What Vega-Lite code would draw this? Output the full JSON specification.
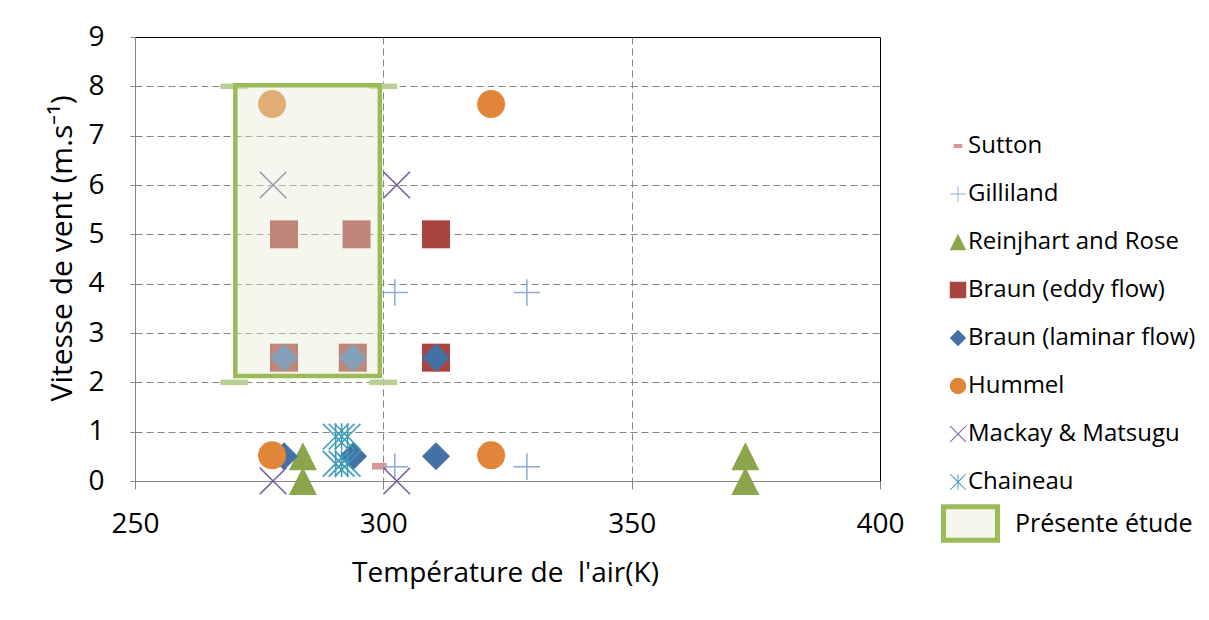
{
  "$schema": "https://vega.github.io/schema/vega-lite/v6.json",
  "width": 745,
  "height": 444,
  "autosize": {"type": "none"},
  "padding": {"left": 135, "top": 37, "right": 329, "bottom": 139},
  "background": "#ffffff",
  "datasets": {
    "pts": [
      {"serie": "Sutton", "T": 299.2, "V": 0.3},
      {"serie": "Gilliland", "T": 302.3, "V": 3.82},
      {"serie": "Gilliland", "T": 328.9, "V": 3.82},
      {"serie": "Gilliland", "T": 302.3, "V": 0.29},
      {"serie": "Gilliland", "T": 328.9, "V": 0.29},
      {"serie": "Reinjhart and Rose", "T": 283.8, "V": 0.5},
      {"serie": "Reinjhart and Rose", "T": 283.8, "V": 0},
      {"serie": "Reinjhart and Rose", "T": 372.9, "V": 0.5},
      {"serie": "Reinjhart and Rose", "T": 372.9, "V": 0},
      {"serie": "Braun (eddy flow)", "T": 280, "V": 5},
      {"serie": "Braun (eddy flow)", "T": 294.6, "V": 5},
      {"serie": "Braun (eddy flow)", "T": 310.6, "V": 5},
      {"serie": "Braun (eddy flow)", "T": 280, "V": 2.5},
      {"serie": "Braun (eddy flow)", "T": 293.85, "V": 2.5},
      {"serie": "Braun (eddy flow)", "T": 310.6, "V": 2.5},
      {"serie": "Braun (laminar flow)", "T": 280, "V": 2.5},
      {"serie": "Braun (laminar flow)", "T": 293.85, "V": 2.5},
      {"serie": "Braun (laminar flow)", "T": 310.6, "V": 2.5},
      {"serie": "Braun (laminar flow)", "T": 280, "V": 0.5},
      {"serie": "Braun (laminar flow)", "T": 293.9, "V": 0.5},
      {"serie": "Braun (laminar flow)", "T": 310.6, "V": 0.5},
      {"serie": "Hummel", "T": 277.6, "V": 7.64},
      {"serie": "Hummel", "T": 321.7, "V": 7.64},
      {"serie": "Hummel", "T": 277.6, "V": 0.52},
      {"serie": "Hummel", "T": 321.7, "V": 0.52},
      {"serie": "Mackay & Matsugu", "T": 277.8, "V": 6},
      {"serie": "Mackay & Matsugu", "T": 302.7, "V": 6},
      {"serie": "Mackay & Matsugu", "T": 277.8, "V": 0},
      {"serie": "Mackay & Matsugu", "T": 302.7, "V": 0},
      {"serie": "Chaineau", "T": 290.4, "V": 0.9},
      {"serie": "Chaineau", "T": 291.6, "V": 0.9},
      {"serie": "Chaineau", "T": 292.8, "V": 0.9},
      {"serie": "Chaineau", "T": 290.4, "V": 0.35},
      {"serie": "Chaineau", "T": 291.6, "V": 0.35},
      {"serie": "Chaineau", "T": 292.8, "V": 0.35}
    ],
    "corners": [
      {"T": 270, "V": 2},
      {"T": 300, "V": 2},
      {"T": 270, "V": 8},
      {"T": 300, "V": 8}
    ],
    "zone": [
      {"etude": "Présente étude", "Tmin": 270.2, "Tmax": 299.3, "Vmin": 2.13, "Vmax": 8.02}
    ]
  },
  "layer": [
    {
      "data": {"name": "pts"},
      "mark": {"type": "point", "filled": true, "opacity": 1, "size": 784, "strokeWidth": 0},
      "encoding": {
        "x": {
          "field": "T", "type": "quantitative",
          "scale": {"domain": [250, 400], "nice": false, "zero": false},
          "axis": {
            "values": [250, 300, 350, 400],
            "title": "Température de\u00a0 l'air(K)",
            "grid": true,
            "gridColor": "#868686",
            "gridDash": [7, 4],
            "gridOpacity": {"condition": {"test": "datum.value == 300 || datum.value == 350", "value": 1}, "value": 0},
            "domainColor": "#868686",
            "tickColor": "#868686",
            "tickSize": 8,
            "labelFont": "Open Sans",
            "labelFontSize": 28,
            "labelColor": "#000000",
            "labelBaseline": "alphabetic",
            "labelPadding": 43,
            "labelFlush": false,
            "labelOverlap": false,
            "titleFont": "Open Sans",
            "titleFontSize": 28,
            "titleFontWeight": "normal",
            "titleColor": "#000000",
            "titleBaseline": "alphabetic",
            "titleAlign": "center",
            "titleX": 370,
            "titleY": 100
          }
        },
        "y": {
          "field": "V", "type": "quantitative",
          "scale": {"domain": [0, 9], "nice": false, "zero": false},
          "axis": {
            "values": [0, 1, 2, 3, 4, 5, 6, 7, 8, 9],
            "title": "Vitesse de vent (m.s⁻¹)",
            "grid": true,
            "gridColor": "#868686",
            "gridDash": [7, 4],
            "gridOpacity": {"condition": {"test": "datum.value > 0 && datum.value < 9", "value": 1}, "value": 0},
            "domainColor": "#868686",
            "tickColor": "#868686",
            "tickSize": 5,
            "labelFont": "Open Sans",
            "labelFontSize": 28,
            "labelColor": "#000000",
            "labelPadding": 26,
            "labelFlush": false,
            "labelOverlap": false,
            "titleFont": "Open Sans",
            "titleFontSize": 30,
            "titleFontWeight": "normal",
            "titleColor": "#000000",
            "titleAngle": 270,
            "titleBaseline": "middle",
            "titleAlign": "center",
            "titleX": -73,
            "titleY": 211
          }
        },
        "color": {
          "field": "serie", "type": "nominal",
          "scale": {
            "domain": ["Sutton", "Gilliland", "Reinjhart and Rose", "Braun (eddy flow)", "Braun (laminar flow)", "Hummel", "Mackay & Matsugu", "Chaineau"],
            "range": ["#d99795", "#8eaad4", "#8aa54b", "#a9443f", "#4470a5", "#e0853a", "#775a9c", "#3d9cb8"]
          },
          "legend": {
            "orient": "none", "legendX": 811, "legendY": 97, "title": null, "padding": 0,
            "symbolSize": 272, "symbolOpacity": 1, "symbolStrokeWidth": 0,
            "labelFont": "Open Sans", "labelFontSize": 24, "labelColor": "#000000",
            "rowPadding": 24, "labelOffset": -2, "labelLimit": 400
          }
        },
        "shape": {
          "field": "serie", "type": "nominal",
          "scale": {
            "domain": ["Sutton", "Gilliland", "Reinjhart and Rose", "Braun (eddy flow)", "Braun (laminar flow)", "Hummel", "Mackay & Matsugu", "Chaineau"],
            "range": [
              "M-0.53,-0.24H0.53V0.24H-0.53Z",
              "M-0.95,-0.055H-0.055V-0.95H0.055V-0.055H0.95V0.055H0.055V0.95H-0.055V0.055H-0.95Z",
              "M0,-1L1,1L-1,1Z",
              "square",
              "diamond",
              "circle",
              "M-0.91,-0.99L0.99,0.91L0.91,0.99L-0.99,-0.91ZM-0.99,0.91L0.91,-0.99L0.99,-0.91L-0.91,0.99Z",
              "M-0.88,-0.96L0.96,0.88L0.88,0.96L-0.96,-0.88ZM-0.96,0.88L0.88,-0.96L0.96,-0.88L-0.88,0.96ZM0.055,-0.95L0.055,0.95L-0.055,0.95L-0.055,-0.95Z"
            ]
          },
          "legend": {
            "orient": "none", "legendX": 811, "legendY": 97, "title": null, "padding": 0,
            "symbolSize": 272, "symbolOpacity": 1, "symbolStrokeWidth": 0,
            "labelFont": "Open Sans", "labelFontSize": 24, "labelColor": "#000000",
            "rowPadding": 24, "labelOffset": -2, "labelLimit": 400
          }
        }
      }
    },
    {
      "data": {"name": "corners"},
      "mark": {"type": "point", "filled": true, "opacity": 1, "size": 784, "strokeWidth": 0, "shape": "M-1,-0.2H1V0.2H-1Z", "color": "#b9cf96"},
      "encoding": {
        "x": {"field": "T", "type": "quantitative"},
        "y": {"field": "V", "type": "quantitative"}
      }
    },
    {
      "data": {"name": "zone"},
      "mark": {"type": "rect", "fill": "#e6ebd4", "fillOpacity": 0.4, "stroke": "#9bbb59", "strokeWidth": 4.5, "strokeOpacity": 1, "strokeJoin": "miter"},
      "encoding": {
        "x": {"field": "Tmin", "type": "quantitative"},
        "x2": {"field": "Tmax"},
        "y": {"field": "Vmin", "type": "quantitative"},
        "y2": {"field": "Vmax"}
      }
    },
    {
      "data": {"name": "zone"},
      "mark": {"type": "rect", "fill": "#f5f7ee", "opacity": 0, "strokeWidth": 5},
      "encoding": {
        "x": {"field": "Tmin", "type": "quantitative"},
        "x2": {"field": "Tmax"},
        "y": {"field": "Vmin", "type": "quantitative"},
        "y2": {"field": "Vmax"},
        "stroke": {
          "field": "etude", "type": "nominal",
          "scale": {"domain": ["Présente étude"], "range": ["#9bbb59"]},
          "legend": {
            "orient": "none", "legendX": 806, "legendY": 457, "title": null, "padding": 0,
            "symbolType": "M-1,-0.62H1V0.62H-1Z", "symbolSize": 2916, "symbolStrokeWidth": 5,
            "symbolOpacity": 1, "symbolFillColor": "#f5f7ee",
            "labelFont": "Open Sans", "labelFontSize": 25, "labelColor": "#000000",
            "labelOffset": 15, "labelLimit": 400,
            "encode": {"symbols": {"update": {"fill": {"value": "#f5f7ee"}, "fillOpacity": {"value": 1}, "opacity": {"value": 1}, "strokeJoin": {"value": "round"}}}}
          }
        }
      }
    }
  ],
  "config": {
    "view": {"stroke": "#000000", "strokeWidth": 1},
    "font": "Open Sans"
  }
}
